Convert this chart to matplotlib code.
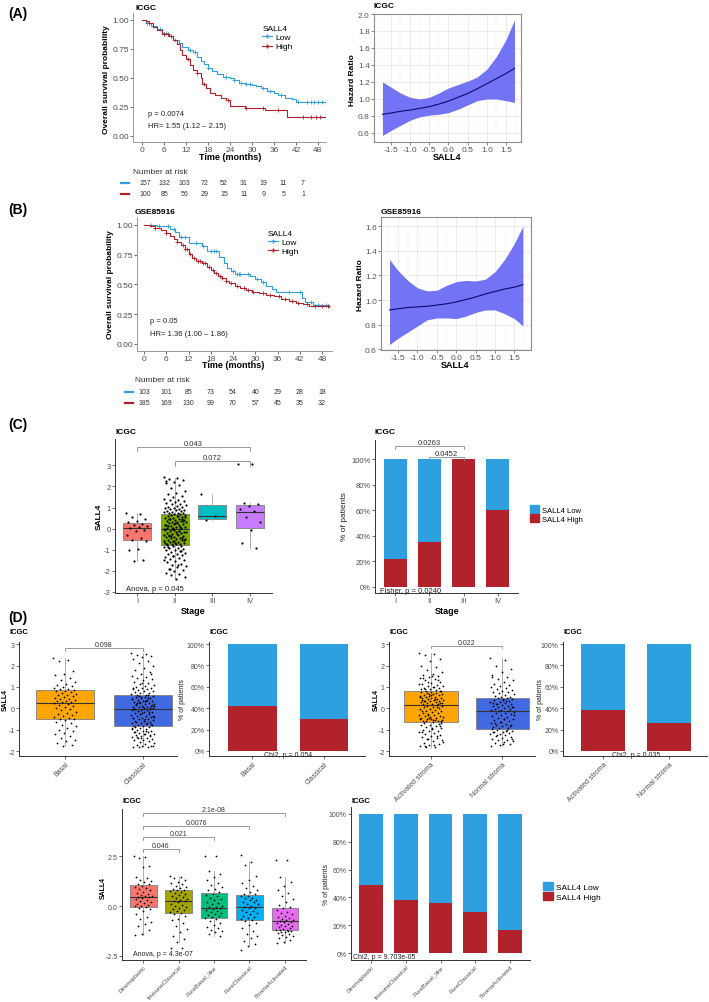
import matplotlib
matplotlib.use('Agg')
import matplotlib.pyplot as plt
from matplotlib.lines import Line2D
from matplotlib.patches import Patch
import numpy as np

plt.rcParams['font.family'] = ['Liberation Sans', 'DejaVu Sans']
plt.rcParams['axes.unicode_minus'] = False

W, H = 709, 1003
BLUE = '#2E9FDF'
RED = '#B2222A'
GREY = '#4D4D4D'

# ---------------- data ----------------
risk_times = [0, 6, 12, 18, 24, 30, 36, 42, 48]

# (A) ICGC Kaplan-Meier
icgc_low_t = [0, 1, 2.5, 4, 5.5, 7, 8.5, 10, 11, 12.5, 14, 15, 16, 17, 18, 19, 20.5, 22, 24, 25,
              26.5, 28, 30, 31, 32.5, 34, 36, 37, 39, 41, 42, 50]
icgc_low_s = [1.0, 0.97, 0.95, 0.92, 0.89, 0.86, 0.83, 0.80, 0.77, 0.74, 0.72, 0.68, 0.65, 0.62, 0.59,
              0.56, 0.53, 0.51, 0.50, 0.48, 0.46, 0.45, 0.44, 0.43, 0.41, 0.39, 0.37, 0.35, 0.33, 0.32,
              0.29, 0.29]
icgc_high_t = [0, 1, 2, 3, 4, 5.5, 7.5, 8.5, 9.5, 10.5, 11, 12, 13, 14, 15, 16, 16.5, 17.5, 18.5, 20,
               21.5, 23, 24, 28, 33.5, 39.5, 50]
icgc_high_s = [1.0, 0.99, 0.97, 0.94, 0.91, 0.88, 0.86, 0.83, 0.79, 0.74, 0.70, 0.66, 0.61, 0.57, 0.54,
               0.50, 0.45, 0.41, 0.37, 0.35, 0.33, 0.31, 0.26, 0.245, 0.225, 0.165, 0.165]
icgc_low_cens = [1.5, 3, 5, 6.5, 9, 13, 14.5, 18, 23, 25, 27, 28.5, 29.5, 33, 35, 38, 42.5, 45, 46, 47,
                 48, 49]
icgc_high_cens = [2, 6, 7, 8, 12.5, 15, 17, 23.5, 28.5, 33, 37, 44, 46, 47.5, 48.5]
icgc_risk_low = [157, 132, 103, 72, 52, 31, 19, 11, 7]
icgc_risk_high = [100, 85, 56, 29, 15, 11, 9, 5, 1]

# (B) GSE85916 Kaplan-Meier
gse_low_t = [0, 3.5, 5, 7, 8.3, 9.5, 12.2, 15.5, 17, 20.3, 21.5, 22.5, 23.5, 24.5, 28.5, 30, 31.5,
             33, 34.5, 35.5, 42.5, 43.5, 45.5, 50]
gse_low_s = [1.0, 0.995, 0.99, 0.97, 0.94, 0.90, 0.85, 0.82, 0.78, 0.73, 0.68, 0.64, 0.61, 0.585,
             0.57, 0.55, 0.52, 0.49, 0.46, 0.44, 0.385, 0.355, 0.33, 0.33]
gse_high_t = [0, 1.5, 3, 4.5, 6, 7, 8, 9, 10, 11, 12, 13, 14, 15.5, 17, 18, 19, 20, 21, 22, 23, 24.5,
              26, 27.5, 29, 31, 33, 35, 37, 39, 41, 43, 44.5, 50]
gse_high_s = [1.0, 0.99, 0.975, 0.955, 0.935, 0.91, 0.885, 0.86, 0.83, 0.80, 0.76, 0.72, 0.70, 0.68,
              0.65, 0.625, 0.60, 0.575, 0.555, 0.53, 0.51, 0.49, 0.47, 0.45, 0.44, 0.43, 0.415, 0.40,
              0.38, 0.36, 0.345, 0.335, 0.315, 0.31]
gse_low_cens = [2, 4, 6.5, 8, 10, 11, 14, 16, 18, 19, 19.5, 24, 25, 25.5, 26, 28, 30.5, 32, 39, 42, 45,
                47, 49]
gse_high_cens = [3, 6, 9, 10.5, 11, 11.5, 12.5, 13.5, 14.5, 15, 16, 16.5, 17.5, 18.5, 19.5, 20.5, 21,
                 22, 23.5, 25, 27, 28, 29.5, 32, 34, 36.5, 38, 40, 41.5, 44, 46, 48, 49.5]
gse_risk_low = [103, 101, 85, 73, 54, 40, 29, 28, 18]
gse_risk_high = [185, 169, 130, 99, 70, 57, 45, 35, 32]

# hazard ratio splines
hr_x = [-1.72, -1.5, -1.25, -1.0, -0.75, -0.5, -0.25, 0.0, 0.25, 0.5, 0.75, 1.0, 1.25, 1.5, 1.72]
hr_icgc_mid = [0.82, 0.835, 0.855, 0.87, 0.89, 0.91, 0.94, 0.975, 1.02, 1.065, 1.12, 1.18, 1.24, 1.30, 1.36]
hr_icgc_hi = [1.20, 1.14, 1.07, 1.02, 1.00, 1.02, 1.07, 1.13, 1.17, 1.21, 1.26, 1.35, 1.50, 1.70, 1.93]
hr_icgc_lo = [0.57, 0.63, 0.69, 0.75, 0.79, 0.81, 0.82, 0.84, 0.88, 0.93, 0.98, 1.00, 1.00, 0.98, 0.96]
hr_gse_mid = [0.92, 0.93, 0.94, 0.945, 0.95, 0.96, 0.97, 0.985, 1.005, 1.025, 1.05, 1.07, 1.09, 1.105, 1.125]
hr_gse_hi = [1.33, 1.24, 1.16, 1.10, 1.075, 1.08, 1.12, 1.15, 1.16, 1.155, 1.17, 1.23, 1.33, 1.46, 1.60]
hr_gse_lo = [0.64, 0.69, 0.74, 0.79, 0.84, 0.855, 0.855, 0.85, 0.87, 0.90, 0.92, 0.92, 0.89, 0.85, 0.79]

# (C) stage
stages = ['I', 'II', 'III', 'IV']
stage_q1 = [-0.56, -0.76, 0.45, 0.05]
stage_med = [0.05, -0.03, 0.58, 0.81]
stage_q3 = [0.26, 0.70, 1.10, 1.12]
stage_lo = [-1.55, -2.37, 0.42, -0.92]
stage_hi = [0.75, 2.40, 1.62, 1.22]
stage_pts = [
    "0.75 0.68 0.55 0.45 0.38 0.30 0.22 0.18 0.12 0.08 0.03 -0.05 -0.12 -0.30 -0.45 -0.55 -0.60 -0.95 -1.0 -1.48 -1.55",
    "2.45 2.40 2.35 2.30 2.20 2.15 2.05 1.95 1.80 1.70 1.62 1.55 1.48 1.42 1.38 1.35 1.30 1.25 1.20 1.18 "
    "1.15 1.12 1.08 1.05 1.02 1.00 0.98 0.95 0.92 0.90 0.88 0.85 0.83 0.80 0.78 0.76 0.74 0.72 0.71 2.25 "
    "0.68 0.66 0.63 0.60 0.58 0.55 0.52 0.50 0.48 0.45 0.42 0.40 0.38 0.35 0.33 0.30 0.28 0.25 0.22 0.20 "
    "0.18 0.15 0.13 0.10 0.08 0.05 0.03 0.01 -0.01 0.62 0.44 0.36 0.27 0.16 0.07 -0.02 0.57 0.31 0.12 0.46 "
    "-0.05 -0.08 -0.10 -0.12 -0.15 -0.18 -0.20 -0.22 -0.25 -0.28 -0.30 -0.32 -0.35 -0.38 -0.40 -0.42 -0.45 "
    "-0.48 -0.50 -0.52 -0.55 -0.58 -0.60 -0.62 -0.65 -0.68 -0.70 -0.72 -0.74 -0.75 -0.14 -0.27 -0.36 -0.46 "
    "-0.57 -0.66 -0.09 -0.33 -0.54 -0.71 -0.78 -0.80 -0.83 -0.86 -0.90 -0.93 -0.96 -1.00 -1.03 -1.06 -1.10 "
    "-1.14 -1.18 -1.22 -1.26 -1.30 -1.35 -1.40 -1.45 -1.50 -1.55 -1.60 -1.66 -1.72 -1.78 -1.84 -1.90 -1.96 "
    "-2.02 -2.08 -2.15 -2.22 -2.30 -2.37 -0.88 -1.08 -1.28 -1.48 -1.70 -1.92",
    "1.65 0.58 0.42",
    "3.05 3.05 1.22 1.15 1.08 0.95 0.82 0.55 0.32 -0.05 -0.68 -0.92",
]
stage_high = [0.22, 0.35, 1.0, 0.60]

# (D) subtypes
subtypes = ['Basal', 'Classical']
sub_q1 = [-0.52, -0.85]
sub_med = [0.27, -0.05]
sub_q3 = [0.85, 0.61]
sub_lo = [-1.78, -1.83]
sub_hi = [2.35, 2.58]
sub_pts = [
    "2.35 2.25 2.20 1.75 1.62 1.55 1.40 1.30 1.22 1.15 1.08 1.02 0.98 0.95 0.92 0.90 0.87 "
    "0.83 0.80 0.76 0.72 0.68 0.64 0.60 0.56 0.52 0.48 0.45 0.42 0.39 0.36 0.33 0.30 0.28 "
    "0.25 0.20 0.15 0.10 0.05 0.00 -0.05 -0.10 -0.15 -0.20 -0.25 -0.30 -0.35 -0.40 -0.45 -0.48 -0.50 "
    "-0.55 -0.62 -0.70 -0.78 -0.85 -0.92 -1.00 -1.08 -1.15 -1.22 -1.30 -1.38 -1.48 -1.55 -1.62 -1.70 -1.78",
    "2.58 2.55 2.50 2.45 2.40 2.30 2.20 2.10 2.00 1.90 1.80 1.70 1.60 1.52 1.45 1.40 1.35 1.30 1.25 1.20 "
    "1.15 1.10 1.05 1.00 0.97 0.94 0.91 0.88 0.85 0.82 0.79 0.76 0.73 0.70 0.67 0.64 0.62 1.62 1.18 0.95 "
    "0.60 0.58 0.56 0.54 0.52 0.50 0.47 0.44 0.41 0.38 0.35 0.32 0.30 0.27 0.24 0.21 0.18 0.15 0.12 0.10 "
    "0.08 0.06 0.04 0.02 0.00 -0.02 -0.04 0.55 0.45 0.36 0.26 0.16 0.07 -0.01 0.49 0.29 0.11 0.33 0.19 0.03 "
    "-0.06 -0.08 -0.10 -0.13 -0.16 -0.19 -0.22 -0.25 -0.28 -0.31 -0.34 -0.37 -0.40 -0.43 -0.46 -0.49 -0.52 "
    "-0.55 -0.58 -0.61 -0.64 -0.67 -0.70 -0.73 -0.76 -0.79 -0.82 -0.84 -0.15 -0.27 -0.39 -0.51 -0.63 -0.75 "
    "-0.21 -0.45 -0.69 -0.12 -0.35 -0.59 -0.86 -0.89 -0.92 -0.95 -0.98 -1.01 -1.04 -1.07 -1.10 -1.13 -1.16 "
    "-1.19 -1.22 -1.25 -1.28 -1.31 -1.34 -1.37 -1.40 -1.43 -1.46 -1.50 -1.54 -1.58 -1.62 -1.66 -1.70 -1.74 "
    "-1.78 -1.81 -1.83 -1.80 -1.76 -1.21 -1.11 -1.27 -1.41 -0.94 -1.05 -1.33",
]
sub_high = [0.42, 0.30]

stroma = ['Activated stroma', 'Normal stroma']
str_q1 = [-0.62, -0.95]
str_med = [0.17, -0.12]
str_q3 = [0.80, 0.50]
str_lo = [-1.83, -1.75]
str_hi = [2.60, 2.35]
str_pts = [
    "2.60 2.55 2.50 2.30 2.20 2.00 1.95 1.80 1.70 1.60 1.55 1.50 1.45 1.40 1.35 1.30 1.25 1.20 1.15 1.10 "
    "1.06 1.03 1.00 0.97 0.94 0.91 0.88 0.85 0.83 0.81 1.52 1.42 1.32 1.22 1.12 0.99 0.90 "
    "0.79 0.77 0.75 0.72 0.70 0.68 0.66 0.63 0.61 0.59 0.57 0.55 0.52 0.50 0.48 0.46 0.44 0.42 0.40 0.38 "
    "0.36 0.34 0.32 0.30 0.28 0.26 0.24 0.22 0.20 0.18 0.65 0.54 0.43 0.33 0.25 0.62 0.37 "
    "0.16 0.13 0.10 0.07 0.04 0.01 -0.02 -0.05 -0.08 -0.11 -0.14 -0.17 -0.20 -0.23 -0.26 -0.29 -0.32 -0.35 "
    "-0.38 -0.41 -0.44 -0.47 -0.50 -0.53 -0.56 -0.59 -0.61 -0.45 -0.52 -0.55 -0.58 -0.60 -0.48 -0.12 0.05 "
    "-0.30 -0.40 -0.64 -0.68 -0.72 -0.76 -0.80 -0.84 -0.88 -0.92 -0.96 -1.00 -1.04 -1.08 -1.12 -1.16 -1.20 "
    "-1.25 -1.30 -1.35 -1.40 -1.45 -1.50 -1.55 -1.60 -1.65 -1.70 -1.75 -1.80 -1.83 -0.70 -0.90 -1.10 -1.28 "
    "-1.42 -1.58 -1.72 -1.78 -0.82",
    "2.35 2.28 2.00 1.85 1.70 1.55 1.45 1.38 1.30 1.22 1.15 1.10 1.05 1.00 0.95 0.90 0.86 0.82 0.78 0.74 "
    "0.70 0.66 0.62 0.58 0.54 0.52 1.48 0.49 0.46 0.43 0.40 0.37 0.34 0.31 0.28 0.25 0.22 0.19 0.16 0.13 "
    "0.10 0.07 0.04 0.01 -0.02 -0.05 -0.08 -0.10 0.35 0.20 0.05 0.42 0.27 -0.11 -0.14 -0.17 -0.20 -0.24 "
    "-0.28 -0.32 -0.36 -0.40 -0.44 -0.48 -0.52 -0.56 -0.60 -0.64 -0.68 -0.72 -0.76 -0.80 -0.84 -0.88 -0.92 "
    "-0.94 -0.30 -0.50 -0.70 -0.85 -0.62 -0.97 -1.00 -1.03 -1.06 -1.09 -1.12 -1.15 -1.18 -1.22 -1.26 -1.30 "
    "-1.34 -1.38 -1.42 -1.46 -1.50 -1.54 -1.58 -1.62 -1.66 -1.70 -1.75 -1.05 -1.25 -1.45 -1.65 -1.10",
]
str_high = [0.385, 0.26]

moffitt = ['Desmoplastic', 'ImmuneClassical', 'PureBasal_like', 'PureClassical', 'StromaActivated']
mof_q1 = [-0.05, -0.35, -0.60, -0.70, -1.20]
mof_med = [0.45, 0.25, -0.08, -0.06, -0.75]
mof_q3 = [1.05, 0.80, 0.65, 0.55, -0.10]
mof_lo = [-1.45, -1.80, -1.50, -2.00, -1.85]
mof_hi = [2.50, 1.50, 1.75, 2.20, 1.45]
mof_pts = [
    "2.50 2.45 2.40 2.00 1.95 1.45 1.38 1.30 1.25 1.18 1.12 1.08 1.02 0.95 0.90 0.85 0.78 0.72 0.66 0.60 "
    "0.55 0.52 0.48 0.46 0.43 0.40 0.35 0.30 0.25 0.20 0.15 0.10 0.05 0.00 -0.02 -0.04 -0.08 -0.15 -0.25 "
    "-0.40 -0.55 -0.65 -0.80 -0.90 -1.00 -1.20 -1.38 -1.45",
    "1.50 1.45 1.38 1.30 1.22 1.15 1.08 1.02 0.96 0.90 0.85 0.82 0.78 0.74 0.70 0.65 0.60 0.55 0.50 0.45 "
    "0.40 0.35 0.30 0.27 0.23 0.18 0.12 0.06 0.00 -0.05 -0.10 -0.15 -0.20 -0.25 -0.30 -0.33 -0.40 -0.50 "
    "-0.65 -0.70 -0.85 -1.00 -1.15 -1.30 -1.50 -1.65 -1.80 -2.10 -2.10",
    "2.50 2.50 1.75 1.60 1.45 1.30 1.15 1.05 0.95 0.85 0.78 0.70 0.62 0.55 0.48 0.40 0.35 0.30 0.22 0.15 "
    "0.08 0.02 -0.03 -0.06 -0.10 -0.15 -0.20 -0.25 -0.30 -0.35 -0.40 -0.45 -0.50 -0.55 -0.58 -0.65 -0.75 "
    "-0.85 -0.95 -1.05 -1.10 -1.20 -1.25 -1.30 -1.40 -1.50",
    "2.55 2.20 2.05 1.50 1.30 1.15 1.00 0.90 0.80 0.70 0.62 0.58 0.52 0.48 0.42 0.38 0.32 0.28 0.22 0.18 "
    "0.12 0.08 0.02 -0.04 -0.08 -0.12 -0.18 -0.25 -0.30 -0.35 -0.42 -0.48 -0.55 -0.60 -0.66 -0.69 -0.75 "
    "-0.85 -0.95 -1.10 -1.25 -1.40 -1.50 -1.60 -1.75 -1.90 -2.00 -2.20",
    "2.30 2.30 1.45 1.20 1.00 0.80 0.65 0.50 0.35 0.20 0.05 -0.05 -0.12 -0.20 -0.28 -0.35 -0.42 -0.50 "
    "-0.55 -0.60 -0.65 -0.68 -0.72 -0.74 -0.78 -0.82 -0.86 -0.90 -0.94 -0.98 -1.02 -1.06 -1.10 -1.14 -1.18 "
    "-1.19 -1.22 -1.26 -1.30 -1.35 -1.40 -1.45 -1.50 -1.55 -1.60 -1.70 -1.80 -1.85 -1.25 -1.32",
]
mof_high = [0.49, 0.38, 0.36, 0.295, 0.165]

stage_cols = ['#F8766D', '#7CAE00', '#00BFC4', '#C77CFF']
two_cols = ['#FFA500', '#4169E1']
mof_cols = ['#F8766D', '#A3A500', '#00BF7D', '#00B0F6', '#E76BF3']

# ---------------- helpers ----------------
fig = plt.figure(figsize=(W / 100, H / 100), dpi=100)


def add_ax(l, t, r, b):
    return fig.add_axes([l / W, 1 - b / H, (r - l) / W, (b - t) / H])


def ftext(x, y, s, **kw):
    kw.setdefault('va', 'center')
    fig.text(x / W, 1 - y / H, s, **kw)


def classic(ax, fs=5.5):
    for s in ['top', 'right']:
        ax.spines[s].set_visible(False)
    for s in ['left', 'bottom']:
        ax.spines[s].set_color('#333333')
        ax.spines[s].set_linewidth(0.7)
    ax.tick_params(labelsize=fs, colors='#333333', labelcolor=GREY, length=2, width=0.5, pad=1)


def km(ax, lt, ls, ht, hs, lc, hc, xlim, ylim, ptxt, hrtxt, ty):
    for t, s, c, cens in [(lt, ls, BLUE, lc), (ht, hs, RED, hc)]:
        t = np.array(t)
        s = np.array(s)
        ax.step(t, s, where='post', color=c, lw=0.8)
        idx = np.searchsorted(t, cens, side='right') - 1
        ax.plot(cens, s[idx], '+', color=c, ms=3, mew=0.6)
    ax.set_xlim(*xlim)
    ax.set_ylim(*ylim)
    ax.set_xticks(risk_times)
    ax.set_yticks([0, 0.25, 0.5, 0.75, 1.0])
    ax.set_yticklabels(['0.00', '0.25', '0.50', '0.75', '1.00'])
    classic(ax, 6)
    ax.spines['left'].set_color('#999999')
    ax.spines['bottom'].set_color('#999999')
    ax.text(1.6, ty[0], ptxt, fontsize=5.5, color='#222222', va='center')
    ax.text(1.6, ty[1], hrtxt, fontsize=5.5, color='#222222', va='center')
    hnd = [Line2D([], [], color=BLUE, marker='+', ms=3, lw=0.8),
           Line2D([], [], color=RED, marker='+', ms=3, lw=0.8)]
    lg = ax.legend(hnd, ['Low', 'High'], title='SALL4', loc='upper left', bbox_to_anchor=(0.64, 0.95),
                   frameon=False, fontsize=6, title_fontsize=6, handlelength=1.2, labelspacing=0.15,
                   borderpad=0.2, handletextpad=0.4)
    lg._legend_box.align = 'left'


def risk(ax, low, high, dash):
    ax.set_xlim(0, 48)
    ax.set_ylim(1.5, -0.5)
    ax.axis('off')
    for row, vals, c in [(0, low, BLUE), (1, high, RED)]:
        for t, v in zip(risk_times, vals):
            ax.text(t, row, str(v), fontsize=5, ha='center', va='center', color='#333333')
        ax.plot(dash, [row, row], color=c, lw=1.6, clip_on=False)


def hr(ax, mid, lo, hi, xlim, ylim, yt):
    ax.fill_between(hr_x, lo, hi, color='#7373F5', lw=0)
    ax.plot(hr_x, mid, color='#0A0A6E', lw=0.8)
    ax.set_xlim(*xlim)
    ax.set_ylim(*ylim)
    ax.set_xticks([-1.5, -1.0, -0.5, 0.0, 0.5, 1.0, 1.5])
    ax.set_yticks(yt)
    ax.set_yticklabels(['%.1f' % v for v in yt])
    ax.set_xticks([-1.75, -1.25, -0.75, -0.25, 0.25, 0.75, 1.25, 1.75], minor=True)
    ax.grid(True, which='major', color='#E6E6E6', lw=0.5)
    ax.grid(True, which='minor', color='#F2F2F2', lw=0.3)
    ax.set_axisbelow(True)
    for s in ax.spines.values():
        s.set_color('#8C8C8C')
        s.set_linewidth(0.8)
    ax.tick_params(labelsize=6, colors='#555555', length=2, width=0.5, pad=1)
    ax.tick_params(which='minor', length=0)


def jitter(n, w):
    return ((np.arange(n) * 0.6180339887) % 1.0 - 0.5) * 2 * w


def boxes(ax, q1, med, q3, lo, hi, pts, cols, width, jit, ps, fs):
    stats = [dict(med=m, q1=a, q3=b, whislo=l, whishi=h) for a, m, b, l, h in zip(q1, med, q3, lo, hi)]
    bp = ax.bxp(stats, positions=range(len(stats)), widths=width, patch_artist=True, showfliers=False,
                showcaps=False, boxprops=dict(edgecolor='#7F7F7F', lw=0.6),
                medianprops=dict(color='#333333', lw=0.8), whiskerprops=dict(color='#A0A0A0', lw=0.6))
    for p, c in zip(bp['boxes'], cols):
        p.set_facecolor(c)
    for i, s in enumerate(pts):
        v = np.array(s.split(), float)
        ax.scatter(i + jitter(len(v), jit), v, s=ps, c='black', lw=0, zorder=3)
    classic(ax, fs)


def bars(ax, high, width, fs):
    x = np.arange(len(high))
    high = np.array(high)
    ax.bar(x, high, width, color=RED, zorder=2)
    ax.bar(x, 1 - high, width, bottom=high, color=BLUE, zorder=2)
    ax.set_yticks([0, 0.2, 0.4, 0.6, 0.8, 1.0])
    ax.set_yticklabels(['0%', '20%', '40%', '60%', '80%', '100%'])
    classic(ax, fs)


def bracket(ax, x1, x2, y, txt, tick, fs):
    ax.plot([x1, x1, x2, x2], [y - tick, y, y, y - tick], color='#8C8C8C', lw=0.6, clip_on=False)
    ax.text((x1 + x2) / 2, y, txt, ha='center', va='bottom', fontsize=fs, color='#333333')


def rot_labels(ax, labels, fs):
    ax.set_xticks(range(len(labels)))
    ax.set_xticklabels(labels, rotation=45, ha='right', rotation_mode='anchor', fontsize=fs)


# ---------------- (A) ----------------
ax = add_ax(133, 14, 326, 143)
km(ax, icgc_low_t, icgc_low_s, icgc_high_t, icgc_high_s, icgc_low_cens, icgc_high_cens,
   (-2.45, 50.2), (-0.052, 1.06), 'p = 0.0074', 'HR= 1.55 (1.12 \u2013 2.15)', (0.19, 0.086))
ax = add_ax(145, 178, 303, 200)
risk(ax, icgc_risk_low, icgc_risk_high, [-7.3, -4.9])
ax = add_ax(374, 15, 521, 143)
hr(ax, hr_icgc_mid, hr_icgc_lo, hr_icgc_hi, (-1.94, 1.89), (0.494, 2.0),
   [0.6, 0.8, 1.0, 1.2, 1.4, 1.6, 1.8, 2.0])

ftext(8, 14, '(A)', fontsize=10, fontweight='bold')
ftext(135, 8, 'ICGC', fontsize=6, fontweight='bold')
ftext(374, 7, 'ICGC', fontsize=6, fontweight='bold')
ftext(107, 80, 'Overall survival probability', fontsize=6, fontweight='bold', rotation=90, ha='center')
ftext(230, 158, 'Time (months)', fontsize=6.5, fontweight='bold', ha='center')
ftext(133, 172, 'Number at risk', fontsize=6, color='#333333')
ftext(352, 80, 'Hazard Ratio', fontsize=6, fontweight='bold', rotation=90, ha='center')
ftext(447, 157, 'SALL4', fontsize=6.5, fontweight='bold', ha='center')

# ---------------- (B) ----------------
ax = add_ax(137, 218, 332, 352)
km(ax, gse_low_t, gse_low_s, gse_high_t, gse_high_s, gse_low_cens, gse_high_cens,
   (-1.9, 50.7), (-0.059, 1.067), 'p = 0.05', 'HR= 1.36 (1.00 \u2013 1.86)', (0.2, 0.084))
ax = add_ax(144, 387, 322, 409)
risk(ax, gse_risk_low, gse_risk_high, [-5.1, -3.0])
ax = add_ax(381, 218, 531, 351)
hr(ax, hr_gse_mid, hr_gse_lo, hr_gse_hi, (-1.94, 1.93), (0.595, 1.675), [0.6, 0.8, 1.0, 1.2, 1.4, 1.6])

ftext(8, 210, '(B)', fontsize=10, fontweight='bold')
ftext(135, 213, 'GSE85916', fontsize=6, fontweight='bold')
ftext(381, 213, 'GSE85916', fontsize=6, fontweight='bold')
ftext(111, 285, 'Overall survival probability', fontsize=6, fontweight='bold', rotation=90, ha='center')
ftext(233, 366, 'Time (months)', fontsize=6.5, fontweight='bold', ha='center')
ftext(135, 380, 'Number at risk', fontsize=6, color='#333333')
ftext(361, 285, 'Hazard Ratio', fontsize=6, fontweight='bold', rotation=90, ha='center')
ftext(455, 366, 'SALL4', fontsize=6.5, fontweight='bold', ha='center')

# ---------------- (C) ----------------
ax = add_ax(115, 440, 272, 594)
boxes(ax, stage_q1, stage_med, stage_q3, stage_lo, stage_hi, stage_pts, stage_cols, 0.75, 0.3, 2.5, 5.5)
ax.set_xlim(-0.6, 3.6)
ax.set_ylim(-3.05, 4.25)
ax.set_yticks([-3, -2, -1, 0, 1, 2, 3])
ax.set_xticks(range(4))
ax.set_xticklabels(stages)
bracket(ax, 0, 3, 3.86, '0.043', 0.2, 5.5)
bracket(ax, 1, 3, 3.19, '0.072', 0.2, 5.5)
ax.text(-0.3, -2.85, 'Anova, p = 0.045', fontsize=5.5, color='#222222', va='center')

ax = add_ax(375, 441, 518, 594)
bars(ax, stage_high, 0.7, 5.5)
ax.set_xlim(-0.6, 3.6)
ax.set_ylim(-0.047, 1.15)
ax.set_xticks(range(4))
ax.set_xticklabels(stages)
bracket(ax, 0, 2, 1.10, '0.0263', 0.02, 5.5)
bracket(ax, 1, 2, 1.016, '0.0452', 0.02, 5.5)
ax.text(-0.45, -0.03, 'Fisher, p = 0.0240', fontsize=5.5, color='#222222', va='center', zorder=5)
fig.legend([Patch(color=BLUE), Patch(color=RED)], ['SALL4 Low', 'SALL4 High'], loc='upper left',
           bbox_to_anchor=(525 / W, 1 - 501 / H), frameon=False, fontsize=5.5, handlelength=1.1,
           handleheight=1.1, labelspacing=0.1, handletextpad=0.4, borderpad=0.2)

ftext(8, 425, '(C)', fontsize=10, fontweight='bold')
ftext(115, 433, 'ICGC', fontsize=6, fontweight='bold')
ftext(375, 432, 'ICGC', fontsize=6, fontweight='bold')
ftext(99, 517, 'SALL4', fontsize=6, fontweight='bold', rotation=90, ha='center')
ftext(345, 517, '% of patients', fontsize=6, rotation=90, ha='center', color='#222222')
ftext(193, 611, 'Stage', fontsize=6.5, fontweight='bold', ha='center')
ftext(447, 611, 'Stage', fontsize=6.5, fontweight='bold', ha='center')

# ---------------- (D) row 1 ----------------
ftext(8, 618, '(D)', fontsize=10, fontweight='bold')

ax = add_ax(19, 643, 177, 757)
boxes(ax, sub_q1, sub_med, sub_q3, sub_lo, sub_hi, sub_pts, two_cols, 0.75, 0.15, 1.6, 5)
ax.set_xlim(-0.59, 1.44)
ax.set_ylim(-2.23, 3.1)
ax.set_yticks([-2, -1, 0, 1, 2, 3])
rot_labels(ax, subtypes, 5)
bracket(ax, 0, 1, 2.8, '0.098', 0.1, 5)
ftext(10, 633, 'ICGC', fontsize=5.5, fontweight='bold')
ftext(5, 700, 'SALL4', fontsize=5, fontweight='bold', rotation=90, ha='center')

ax = add_ax(209, 643, 365, 757)
bars(ax, sub_high, 0.68, 5)
ax.set_xlim(-0.6, 1.57)
ax.set_ylim(-0.047, 1.019)
rot_labels(ax, subtypes, 5)
ax.text(0.5, -0.03, 'Chi2, p = 0.054', fontsize=5, ha='center', va='center', color='#222222', zorder=5)
ftext(210, 633, 'ICGC', fontsize=5.5, fontweight='bold')
ftext(183, 700, '% of patients', fontsize=5, rotation=90, ha='center', color='#222222')

ax = add_ax(389, 643, 535, 757)
boxes(ax, str_q1, str_med, str_q3, str_lo, str_hi, str_pts, two_cols, 0.75, 0.17, 1.6, 5)
ax.set_xlim(-0.59, 1.46)
ax.set_ylim(-2.23, 3.1)
ax.set_yticks([-2, -1, 0, 1, 2, 3])
rot_labels(ax, stroma, 5)
bracket(ax, 0, 1, 2.9, '0.022', 0.1, 5)
ftext(389, 633, 'ICGC', fontsize=5.5, fontweight='bold')
ftext(376, 700, 'SALL4', fontsize=5, fontweight='bold', rotation=90, ha='center')

ax = add_ax(563, 643, 707, 757)
bars(ax, str_high, 0.68, 5)
ax.set_xlim(-0.61, 1.58)
ax.set_ylim(-0.047, 1.019)
rot_labels(ax, stroma, 5)
ax.text(0.5, -0.03, 'Chi2, p = 0.035', fontsize=5, ha='center', va='center', color='#222222', zorder=5)
ftext(563, 633, 'ICGC', fontsize=5.5, fontweight='bold')
ftext(540, 700, '% of patients', fontsize=5, rotation=90, ha='center', color='#222222')

# ---------------- (D) row 2 ----------------
ax = add_ax(122, 810, 306, 961)
boxes(ax, mof_q1, mof_med, mof_q3, mof_lo, mof_hi, mof_pts, mof_cols, 0.75, 0.25, 1.6, 5)
ax.set_xlim(-0.6, 4.6)
ax.set_ylim(-2.7, 4.85)
ax.set_yticks([-2.5, 0, 2.5])
ax.set_yticklabels(['-2.5', '0.0', '2.5'])
rot_labels(ax, moffitt, 4.3)
bracket(ax, 0, 4, 4.65, '2.1e-08', 0.15, 5)
bracket(ax, 0, 3, 4.0, '0.0076', 0.15, 5)
bracket(ax, 0, 2, 3.45, '0.021', 0.15, 5)
bracket(ax, 0, 1, 2.85, '0.046', 0.15, 5)
ax.text(-0.3, -2.4, 'Anova, p = 4.3e-07', fontsize=5, color='#222222', va='center')
ftext(122, 802, 'ICGC', fontsize=5.5, fontweight='bold')
ftext(103, 888, 'SALL4', fontsize=5, fontweight='bold', rotation=90, ha='center')

ax = add_ax(351, 808, 530, 961)
bars(ax, mof_high, 0.69, 5)
ax.set_xlim(-0.58, 4.58)
ax.set_ylim(-0.05, 1.05)
rot_labels(ax, moffitt, 4.3)
ax.text(-0.53, -0.022, 'Chi2, p = 9.703e-05', fontsize=5, va='center', color='#222222', zorder=5)
ftext(351, 802, 'ICGC', fontsize=5.5, fontweight='bold')
ftext(327, 885, '% of patients', fontsize=5, rotation=90, ha='center', color='#222222')
fig.legend([Patch(color=BLUE), Patch(color=RED)], ['SALL4 Low', 'SALL4 High'], loc='upper left',
           bbox_to_anchor=(537 / W, 1 - 877 / H), frameon=False, fontsize=6, handlelength=1.2,
           handleheight=1.2, labelspacing=0.1, handletextpad=0.4, borderpad=0.2)

fig.savefig('out.png', dpi=100)
